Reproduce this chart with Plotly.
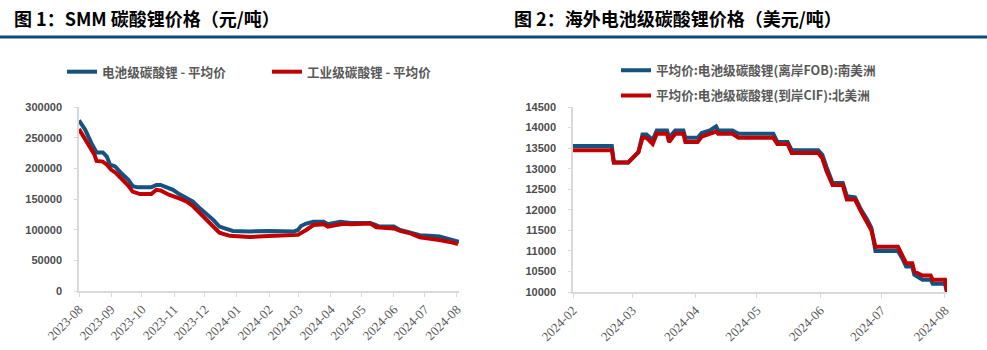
import plotly.graph_objects as go

# ---------- Figure 1: SMM lithium carbonate prices (CNY/t) ----------
battery_dates = ["2023-08-01","2023-08-07","2023-08-13","2023-08-18","2023-08-24","2023-08-28","2023-08-31",
                 "2023-09-05","2023-09-11","2023-09-18","2023-09-22","2023-09-27","2023-10-10","2023-10-15",
                 "2023-10-19","2023-10-24","2023-10-31","2023-11-06","2023-11-13","2023-11-19","2023-11-26",
                 "2023-12-02","2023-12-09","2023-12-15","2023-12-21","2023-12-28","2024-01-13","2024-02-01",
                 "2024-02-25","2024-02-29","2024-03-03","2024-03-08","2024-03-15","2024-03-25","2024-03-29",
                 "2024-04-03","2024-04-10","2024-04-20","2024-05-09","2024-05-14","2024-05-18","2024-06-01",
                 "2024-06-07","2024-06-17","2024-06-26","2024-07-05","2024-07-15","2024-07-21","2024-08-01",
                 "2024-08-03"]
battery_vals = [278000,263000,241000,226000,226000,219000,206000,
                203000,192000,181000,171000,169000,169000,173000,
                173000,169000,165000,158000,151000,146000,135000,
                127000,116000,105000,101000,98000,97000,98000,
                97000,99500,106000,110000,113000,113000,109000,
                110000,113000,111000,111000,108000,105000,105000,
                99500,95000,91000,90000,89000,86000,81500,
                80000]

industrial_dates = ["2023-08-01","2023-08-05","2023-08-11","2023-08-16","2023-08-18","2023-08-24","2023-08-28",
                    "2023-09-01","2023-09-06","2023-09-12","2023-09-17","2023-09-22","2023-09-29","2023-10-10",
                    "2023-10-15","2023-10-19","2023-10-27","2023-11-06","2023-11-13","2023-11-19","2023-11-26",
                    "2023-12-02","2023-12-09","2023-12-15","2023-12-25","2024-01-01","2024-01-13","2024-02-01",
                    "2024-02-25","2024-02-29","2024-03-08","2024-03-15","2024-03-25","2024-03-29","2024-04-06",
                    "2024-04-14","2024-04-20","2024-05-09","2024-05-15","2024-06-01","2024-06-07","2024-06-17",
                    "2024-06-26","2024-07-05","2024-07-15","2024-07-25","2024-08-02"]
industrial_vals = [264000,253000,236000,222000,212000,211000,206000,
                   198000,192000,182000,173000,162000,158000,158000,
                   165000,164000,157000,151000,146000,139000,127000,
                   119000,105000,95000,90000,89000,88000,89700,
                   90000,91500,99500,107600,109000,105000,107600,
                   109500,109000,110000,104000,102000,98000,94000,
                   87500,86000,83000,80000,76600]

# ---------- Figure 2: overseas battery-grade lithium carbonate (USD/t) ----------
fob_dates = ["2024-02-01","2024-02-20","2024-02-21","2024-02-28","2024-03-01","2024-03-04","2024-03-06",
             "2024-03-08","2024-03-11","2024-03-13","2024-03-18","2024-03-19","2024-03-22","2024-03-26",
             "2024-03-27","2024-04-02","2024-04-04","2024-04-08","2024-04-11","2024-04-12","2024-04-19",
             "2024-04-22","2024-05-09","2024-05-11","2024-05-16","2024-05-18","2024-05-31","2024-06-02",
             "2024-06-04","2024-06-07","2024-06-12","2024-06-14","2024-06-18","2024-06-21","2024-06-24",
             "2024-06-26","2024-06-28","2024-07-09","2024-07-11","2024-07-13","2024-07-16","2024-07-17",
             "2024-07-21","2024-07-25","2024-07-26","2024-08-01","2024-08-02"]
fob_vals = [13550,13550,13150,13150,13250,13400,13830,
            13830,13700,13930,13930,13750,13930,13930,
            13750,13750,13870,13930,14030,13930,13930,
            13850,13850,13650,13650,13450,13450,13340,
            13050,12650,12650,12330,12300,12000,11760,
            11560,11000,11000,10830,10620,10620,10420,
            10300,10300,10200,10200,10000]

cif_dates = ["2024-02-01","2024-02-20","2024-02-21","2024-02-28","2024-03-01","2024-03-04","2024-03-06",
             "2024-03-08","2024-03-11","2024-03-13","2024-03-18","2024-03-19","2024-03-22","2024-03-26",
             "2024-03-27","2024-04-02","2024-04-04","2024-04-08","2024-04-11","2024-04-12","2024-04-19",
             "2024-04-22","2024-05-09","2024-05-11","2024-05-16","2024-05-18","2024-05-31","2024-06-02",
             "2024-06-04","2024-06-07","2024-06-12","2024-06-14","2024-06-18","2024-06-21","2024-06-24",
             "2024-06-26","2024-06-28","2024-07-09","2024-07-11","2024-07-13","2024-07-16","2024-07-17",
             "2024-07-21","2024-07-25","2024-07-26","2024-08-01","2024-08-02"]
cif_vals = [13450,13450,13150,13150,13250,13400,13750,
            13750,13600,13850,13850,13650,13850,13850,
            13650,13650,13780,13850,13900,13850,13850,
            13750,13750,13600,13600,13380,13380,13250,
            12950,12600,12600,12250,12250,11950,11700,
            11500,11100,11100,10900,10700,10700,10500,
            10400,10400,10300,10300,10000]

title1 = "图 1：SMM 碳酸锂价格（元/吨）"
title2 = "图 2：海外电池级碳酸锂价格（美元/吨）"
name_battery = "电池级碳酸锂 - 平均价"
name_industrial = "工业级碳酸锂 - 平均价"
name_fob = "平均价:电池级碳酸锂(离岸FOB):南美洲"
name_cif = "平均价:电池级碳酸锂(到岸CIF):北美洲"

BLUE = "#15527F"
RED = "#C00000"
AXIS = "#D9D9D9"
XTICK_FONT = dict(family="Liberation Serif, Times New Roman, serif", size=13, color="#595959")
YTICK_FONT = dict(family="Liberation Sans, Arial, sans-serif", size=11, color="#4D4D4D",
                  weight="bold")
LEG_FONT = dict(family="Noto Sans CJK SC", size=12.6, color="#595959", weight="bold")
TITLE_FONT = dict(family="Noto Sans CJK SC", size=18, color="#000000", weight="bold")

fig = go.Figure()
fig.add_trace(go.Scatter(x=battery_dates, y=battery_vals, name=name_battery, mode="lines",
                         line=dict(color=BLUE, width=4), xaxis="x", yaxis="y", legend="legend"))
fig.add_trace(go.Scatter(x=industrial_dates, y=industrial_vals, name=name_industrial, mode="lines",
                         line=dict(color=RED, width=4), xaxis="x", yaxis="y", legend="legend"))
fig.add_trace(go.Scatter(x=fob_dates, y=fob_vals, name=name_fob, mode="lines",
                         line=dict(color=BLUE, width=4), xaxis="x2", yaxis="y2", legend="legend2",
                         legendgroup="a"))
fig.add_trace(go.Scatter(x=cif_dates, y=cif_vals, name=name_cif, mode="lines",
                         line=dict(color=RED, width=4), xaxis="x2", yaxis="y2", legend="legend2",
                         legendgroup="b"))

xcommon = dict(type="date", tickformat="%Y-%m", dtick="M1", tickangle=-45, showgrid=False,
               showline=True, linecolor=AXIS, linewidth=1.5, ticks="outside", ticklen=4,
               tickcolor=AXIS, tickfont=XTICK_FONT, zeroline=False, automargin=False)
ycommon = dict(showgrid=False, showline=True, linecolor=AXIS, linewidth=1.5, ticks="outside",
               ticklen=3, tickcolor=AXIS, tickfont=YTICK_FONT, zeroline=False,
               tickformat="d", ticklabelstandoff=10, automargin=False)

fig.update_layout(
    template="none",
    width=987, height=350,
    margin=dict(l=0, r=0, t=0, b=0, autoexpand=False),
    paper_bgcolor="white", plot_bgcolor="white",
    showlegend=True,
    xaxis=dict(domain=[79/987, 459/987], range=["2023-08-01", "2024-08-03"],
               tick0="2023-08-01", anchor="y", **xcommon),
    yaxis=dict(domain=[1-291/350, 1-107/350], range=[0, 300000], dtick=50000,
               anchor="x", **ycommon),
    xaxis2=dict(domain=[573/987, 947/987], range=["2024-02-01", "2024-08-02"],
                tick0="2024-02-01", anchor="y2", **xcommon),
    yaxis2=dict(domain=[1-292/350, 1-107/350], range=[10000, 14500], dtick=500,
                anchor="x2", **ycommon),
    legend=dict(orientation="h", x=62/987, y=1-72/350, xanchor="left", yanchor="middle",
                font=LEG_FONT, bgcolor="rgba(0,0,0,0)", entrywidth=160, entrywidthmode="pixels",
                itemwidth=30),
    legend2=dict(orientation="v", x=616/987, y=1-83/350, xanchor="left", yanchor="middle",
                 font=LEG_FONT, bgcolor="rgba(0,0,0,0)", tracegroupgap=6, itemwidth=30),
    annotations=[
        dict(text=title1, xref="paper", yref="paper", x=12/987, y=1-18/350, xanchor="left",
             yanchor="middle", showarrow=False, font=TITLE_FONT),
        dict(text=title2, xref="paper", yref="paper", x=512/987, y=1-18/350, xanchor="left",
             yanchor="middle", showarrow=False, font=TITLE_FONT),
    ],
    shapes=[
        dict(type="line", xref="paper", yref="paper", x0=0, x1=1, y0=1-37/350, y1=1-37/350,
             line=dict(color="#0F4C75", width=3)),
    ],
)

fig.write_html("out.html")
